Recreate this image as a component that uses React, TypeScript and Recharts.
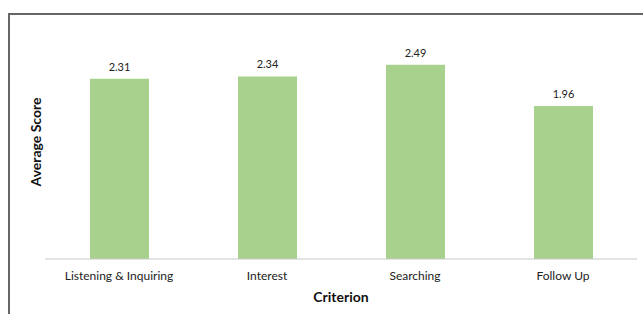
import { BarChart, Bar, XAxis, YAxis, LabelList } from 'recharts';

const criteria = ['Listening & Inquiring', 'Interest', 'Searching', 'Follow Up'];
const averageScores = [2.31, 2.34, 2.49, 1.96];

const data = criteria.map((criterion, i) => ({ criterion, score: averageScores[i] }));

const FONT = 'Lato, "Open Sans", sans-serif';

function YLabel(props: any) {
  const vb = props.viewBox || {};
  const x = vb.x + 25;
  const y = vb.y + vb.height / 2;
  return (
    <text
      x={x}
      y={y}
      transform={`rotate(-90, ${x}, ${y})`}
      textAnchor="middle"
      dominantBaseline="central"
      fontFamily={FONT}
      fontWeight="bold"
      fontSize={14}
      fill="#111"
    >
      Average Score
    </text>
  );
}

export default function App() {
  return (
    <div
      style={{
        position: 'fixed',
        left: 8,
        top: 13,
        width: 635,
        height: 301,
        borderLeft: '2px solid #666',
        borderTop: '2px solid #666',
        background: '#fff',
        boxSizing: 'border-box',
      }}
    >
      <BarChart
        width={633}
        height={299}
        data={data}
        margin={{ top: 10, right: 6, left: 0, bottom: 0 }}
        barCategoryGap={0}
      >
        <XAxis
          dataKey="criterion"
          height={55}
          tickLine={false}
          tickSize={0}
          tickMargin={12}
          axisLine={{ stroke: '#c8c8c8' }}
          tick={{ fill: '#222', fontSize: 12, fontFamily: FONT }}
          interval={0}
          label={{
            value: 'Criterion',
            position: 'insideBottom',
            offset: 12,
            fill: '#111',
            fontSize: 14,
            fontWeight: 'bold',
            fontFamily: FONT,
          }}
        />
        <YAxis
          width={35}
          domain={[0, 3]}
          tick={false}
          tickLine={false}
          axisLine={false}
          label={<YLabel />}
        />
        <Bar dataKey="score" fill="#a9d18e" barSize={59} isAnimationActive={false}>
          <LabelList
            dataKey="score"
            position="top"
            offset={8}
            fill="#222"
            fontSize={11}
            fontFamily={FONT}
            formatter={(v: any) => Number(v).toFixed(2)}
          />
        </Bar>
      </BarChart>
    </div>
  );
}
